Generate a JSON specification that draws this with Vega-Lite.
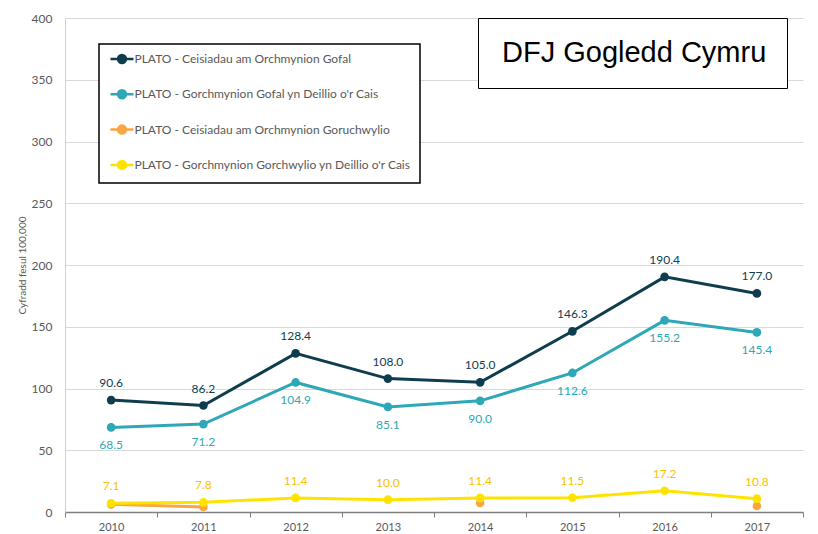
{
  "$schema": "https://vega.github.io/schema/vega-lite/v6.json",
  "width": 738,
  "height": 494,
  "autosize": {"type": "none"},
  "padding": {"left": 65, "top": 18, "right": 15, "bottom": 22},
  "background": "white",
  "config": {"view": {"stroke": null}, "font": "Lato"},
  "data": {
    "values": [
      {"year": "2010", "series": "PLATO - Ceisiadau am Orchmynion Gofal", "value": 90.6, "region": "DFJ Gogledd Cymru"},
      {"year": "2011", "series": "PLATO - Ceisiadau am Orchmynion Gofal", "value": 86.2, "region": "DFJ Gogledd Cymru"},
      {"year": "2012", "series": "PLATO - Ceisiadau am Orchmynion Gofal", "value": 128.4, "region": "DFJ Gogledd Cymru"},
      {"year": "2013", "series": "PLATO - Ceisiadau am Orchmynion Gofal", "value": 108.0, "region": "DFJ Gogledd Cymru"},
      {"year": "2014", "series": "PLATO - Ceisiadau am Orchmynion Gofal", "value": 105.0, "region": "DFJ Gogledd Cymru"},
      {"year": "2015", "series": "PLATO - Ceisiadau am Orchmynion Gofal", "value": 146.3, "region": "DFJ Gogledd Cymru"},
      {"year": "2016", "series": "PLATO - Ceisiadau am Orchmynion Gofal", "value": 190.4, "region": "DFJ Gogledd Cymru"},
      {"year": "2017", "series": "PLATO - Ceisiadau am Orchmynion Gofal", "value": 177.0, "region": "DFJ Gogledd Cymru"},
      {"year": "2010", "series": "PLATO - Gorchmynion Gofal yn Deillio o'r Cais", "value": 68.5, "region": "DFJ Gogledd Cymru"},
      {"year": "2011", "series": "PLATO - Gorchmynion Gofal yn Deillio o'r Cais", "value": 71.2, "region": "DFJ Gogledd Cymru"},
      {"year": "2012", "series": "PLATO - Gorchmynion Gofal yn Deillio o'r Cais", "value": 104.9, "region": "DFJ Gogledd Cymru"},
      {"year": "2013", "series": "PLATO - Gorchmynion Gofal yn Deillio o'r Cais", "value": 85.1, "region": "DFJ Gogledd Cymru"},
      {"year": "2014", "series": "PLATO - Gorchmynion Gofal yn Deillio o'r Cais", "value": 90.0, "region": "DFJ Gogledd Cymru"},
      {"year": "2015", "series": "PLATO - Gorchmynion Gofal yn Deillio o'r Cais", "value": 112.6, "region": "DFJ Gogledd Cymru"},
      {"year": "2016", "series": "PLATO - Gorchmynion Gofal yn Deillio o'r Cais", "value": 155.2, "region": "DFJ Gogledd Cymru"},
      {"year": "2017", "series": "PLATO - Gorchmynion Gofal yn Deillio o'r Cais", "value": 145.4, "region": "DFJ Gogledd Cymru"},
      {"year": "2010", "series": "PLATO - Ceisiadau am Orchmynion Goruchwylio", "value": 6.2, "region": "DFJ Gogledd Cymru"},
      {"year": "2011", "series": "PLATO - Ceisiadau am Orchmynion Goruchwylio", "value": 4.1, "region": "DFJ Gogledd Cymru"},
      {"year": "2012", "series": "PLATO - Ceisiadau am Orchmynion Goruchwylio", "value": null, "region": "DFJ Gogledd Cymru"},
      {"year": "2013", "series": "PLATO - Ceisiadau am Orchmynion Goruchwylio", "value": null, "region": "DFJ Gogledd Cymru"},
      {"year": "2014", "series": "PLATO - Ceisiadau am Orchmynion Goruchwylio", "value": 7.3, "region": "DFJ Gogledd Cymru"},
      {"year": "2015", "series": "PLATO - Ceisiadau am Orchmynion Goruchwylio", "value": null, "region": "DFJ Gogledd Cymru"},
      {"year": "2016", "series": "PLATO - Ceisiadau am Orchmynion Goruchwylio", "value": null, "region": "DFJ Gogledd Cymru"},
      {"year": "2017", "series": "PLATO - Ceisiadau am Orchmynion Goruchwylio", "value": 4.9, "region": "DFJ Gogledd Cymru"},
      {"year": "2010", "series": "PLATO - Gorchmynion Gorchwylio yn Deillio o'r Cais", "value": 7.1, "region": "DFJ Gogledd Cymru"},
      {"year": "2011", "series": "PLATO - Gorchmynion Gorchwylio yn Deillio o'r Cais", "value": 7.8, "region": "DFJ Gogledd Cymru"},
      {"year": "2012", "series": "PLATO - Gorchmynion Gorchwylio yn Deillio o'r Cais", "value": 11.4, "region": "DFJ Gogledd Cymru"},
      {"year": "2013", "series": "PLATO - Gorchmynion Gorchwylio yn Deillio o'r Cais", "value": 10.0, "region": "DFJ Gogledd Cymru"},
      {"year": "2014", "series": "PLATO - Gorchmynion Gorchwylio yn Deillio o'r Cais", "value": 11.4, "region": "DFJ Gogledd Cymru"},
      {"year": "2015", "series": "PLATO - Gorchmynion Gorchwylio yn Deillio o'r Cais", "value": 11.5, "region": "DFJ Gogledd Cymru"},
      {"year": "2016", "series": "PLATO - Gorchmynion Gorchwylio yn Deillio o'r Cais", "value": 17.2, "region": "DFJ Gogledd Cymru"},
      {"year": "2017", "series": "PLATO - Gorchmynion Gorchwylio yn Deillio o'r Cais", "value": 10.8, "region": "DFJ Gogledd Cymru"}
    ]
  },
  "encoding": {
    "x": {
      "field": "year", "type": "ordinal",
      "scale": {"paddingInner": 0, "paddingOuter": 0},
      "axis": {
        "title": null, "labelAngle": 0, "labelFont": "Lato", "labelFontSize": 11, "labelColor": "#595959",
        "labelPadding": 4, "tickBand": "extent", "tickSize": 5, "tickColor": "#808080",
        "domainColor": "#808080", "domainWidth": 1.5, "grid": false
      }
    },
    "y": {
      "field": "value", "type": "quantitative",
      "scale": {"domain": [0, 400], "nice": false},
      "axis": {
        "title": "Cyfradd fesul 100,000", "titleFont": "Lato", "titleFontSize": 10, "titleFontWeight": "normal",
        "titleColor": "#595959", "titlePadding": 4,
        "values": [0, 50, 100, 150, 200, 250, 300, 350, 400],
        "labelFont": "Lato", "labelFontSize": 12, "labelColor": "#595959", "labelPadding": 13,
        "ticks": false, "domainColor": "#d0d0d0", "gridColor": "#d9d9d9"
      }
    },
    "color": {
      "field": "series", "type": "nominal",
      "scale": {
        "domain": [
          "PLATO - Ceisiadau am Orchmynion Gofal",
          "PLATO - Gorchmynion Gofal yn Deillio o'r Cais",
          "PLATO - Ceisiadau am Orchmynion Goruchwylio",
          "PLATO - Gorchmynion Gorchwylio yn Deillio o'r Cais"
        ],
        "range": ["#0f3d4e", "#2ea7b6", "#f9a542", "#ffe300"]
      },
      "legend": {
        "orient": "none", "legendX": 34, "legendY": 26, "title": null,
        "strokeColor": "#000000", "fillColor": "white", "padding": 8.5, "rowPadding": 16.3,
        "labelFont": "Lato", "labelFontSize": 12, "labelColor": "#595959", "labelLimit": 400,
        "symbolType": "M-2.3,0H2.3M0.8,0A0.8,0.8,0,1,1,-0.8,0A0.8,0.8,0,1,1,0.8,0Z",
        "symbolSize": 100, "symbolStrokeWidth": 2.5, "symbolOffset": 8, "labelOffset": 6,
        "encode": {
          "legend": {"update": {"strokeWidth": {"value": 1.5}}},
          "symbols": {"update": {"fill": {"scale": "color", "field": "value"}, "stroke": {"scale": "color", "field": "value"}, "opacity": {"value": 1}}}
        }
      }
    }
  },
  "layer": [
    {"mark": {"type": "line", "strokeWidth": 3, "invalid": "break-paths-show-domains"}},
    {
      "mark": {"type": "point", "filled": true, "size": 75, "opacity": 1},
      "encoding": {
        "shape": {
          "field": "region", "type": "nominal",
          "scale": {"range": ["circle"]},
          "legend": {
            "orient": "none", "legendX": 413, "legendY": 0, "title": null,
            "strokeColor": "#000000", "fillColor": "white", "padding": 20,
            "labelFont": "Liberation Sans", "labelFontSize": 29, "labelColor": "#000000", "labelLimit": 500,
            "symbolSize": 0, "symbolOpacity": 0, "symbolStrokeWidth": 0, "labelOffset": -25,
            "encode": {"legend": {"update": {"strokeWidth": {"value": 2}}}}
          }
        }
      }
    },
    {
      "transform": [{"filter": "datum.series == 'PLATO - Ceisiadau am Orchmynion Gofal'"}],
      "mark": {"type": "text", "dy": -17, "font": "Lato", "fontSize": 12},
      "encoding": {"text": {"field": "value", "type": "quantitative", "format": ".1f"}, "color": {"value": "#0f3d4e"}}
    },
    {
      "transform": [{"filter": "datum.series == \"PLATO - Gorchmynion Gofal yn Deillio o'r Cais\""}],
      "mark": {"type": "text", "dy": 18, "font": "Lato", "fontSize": 12},
      "encoding": {"text": {"field": "value", "type": "quantitative", "format": ".1f"}, "color": {"value": "#2ea7b6"}}
    },
    {
      "transform": [{"filter": "datum.series == \"PLATO - Gorchmynion Gorchwylio yn Deillio o'r Cais\""}],
      "mark": {"type": "text", "dy": -17, "font": "Lato", "fontSize": 12},
      "encoding": {"text": {"field": "value", "type": "quantitative", "format": ".1f"}, "color": {"value": "#f7c200"}}
    }
  ]
}
